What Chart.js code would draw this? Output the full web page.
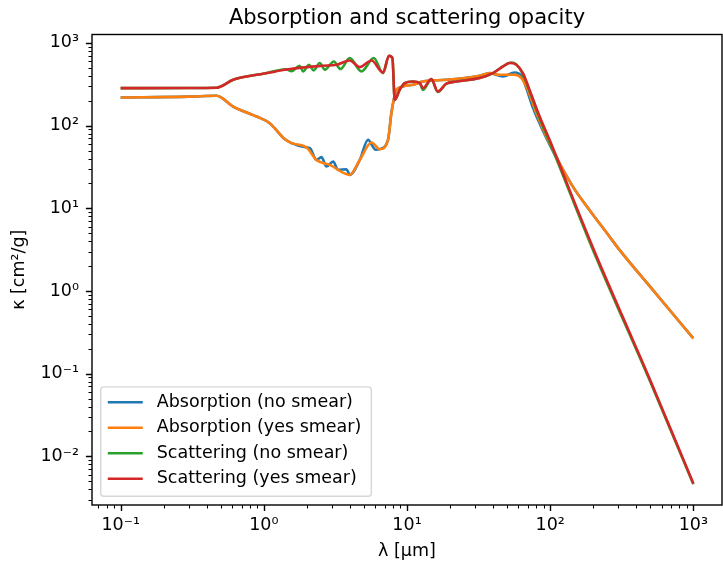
<!DOCTYPE html>
<html>
<head>
<meta charset="utf-8">
<script src="https://cdn.jsdelivr.net/npm/chart.js@4.4.1/dist/chart.umd.min.js"></script>
<style>
  html, body { margin: 0; padding: 0; background: #ffffff; }
  #wrap { width: 723px; height: 562px; }
  canvas { display: block; }
</style>
</head>
<body>
<div id="wrap"><canvas id="c" width="723" height="562"></canvas></div>
<script>
// ---------------- data ----------------
const seriesLabels = [
  'Absorption (no smear)',
  'Absorption (yes smear)',
  'Scattering (no smear)',
  'Scattering (yes smear)'
];

// Absorption, no smear
const lambdaAbsNoSmear = [0.1, 0.3, 0.468, 0.611, 0.798, 0.889, 1.10, 1.40, 1.56, 1.99, 2.10, 2.33, 2.53, 2.74, 3.05, 3.30, 3.78, 3.98, 4.68, 5.34, 6.05, 6.45, 7.37, 7.78, 8.08, 8.43, 11.0, 12.9, 18.8, 32.2, 37.8, 46.8, 56.4, 62.9, 68.1, 75.7, 94.0, 110, 144, 188, 260, 305, 521, 1000];
const kappaAbsNoSmear  = [219, 224, 229.6, 170, 139, 129, 107, 68.7, 61.4, 54.3, 53.4, 38.5, 41.6, 32.0, 36.8, 29.2, 29.7, 25.4, 38.5, 67.3, 51, 52, 67.3, 142, 205, 271, 312, 342, 358, 401, 432, 393, 439, 400, 285, 165, 71, 41.5, 18.3, 9.56, 4.54, 3.14, 1.03, 0.267];

// Absorption, yes smear
const lambdaAbsSmear = [0.1, 0.3, 0.468, 0.611, 0.798, 0.889, 1.10, 1.40, 1.56, 1.99, 2.33, 2.89, 3.98, 4.68, 5.65, 6.45, 7.37, 7.78, 8.08, 8.43, 11.0, 12.9, 18.8, 32.2, 37.8, 44.4, 56.4, 62.9, 68.1, 80.0, 94.0, 110, 144, 188, 260, 305, 521, 1000];
const kappaAbsSmear  = [219, 224, 229.6, 170, 139, 129, 107, 68.7, 61.4, 54.3, 38.5, 33.5, 25.4, 38.5, 62.4, 51.9, 67.3, 142, 205, 271, 312, 342, 358, 401, 432, 412, 412, 376, 297, 142, 73.8, 42.3, 18.3, 9.56, 4.54, 3.14, 1.03, 0.267];

// Scattering, no smear
const lambdaScaNoSmear = [0.1, 0.3, 0.468, 0.611, 0.757, 0.99, 1.44, 1.56, 1.78, 1.88, 2.07, 2.23, 2.46, 2.67, 3.08, 3.43, 3.98, 4.81, 5.86, 6.80, 7.49, 7.91, 8.21, 8.89, 9.64, 11.0, 12.3, 12.9, 14.8, 16.4, 18.8, 22.1, 32.2, 39.8, 46.8, 53.5, 58.0, 64.5, 71.8, 84.4, 99.1, 113, 136.5, 202, 500, 1000];
const kappaScaNoSmear  = [284, 285, 287, 358, 393, 424, 480, 455, 530, 452, 545, 465, 571, 474, 597, 483, 656, 452, 656, 432, 700, 656, 205, 271, 327, 342, 327, 270, 365, 255, 321, 342, 376, 432, 519, 581, 550, 420, 260, 122, 63, 36, 15.8, 2.95, 0.08, 0.0046];

// Scattering, yes smear
const lambdaScaSmear = [0.1, 0.3, 0.468, 0.611, 0.757, 0.99, 1.52, 2.59, 3.22, 3.98, 4.68, 5.65, 6.80, 7.49, 7.91, 8.21, 8.89, 9.64, 11.0, 12.3, 12.9, 14.8, 16.4, 18.8, 22.1, 32.2, 39.8, 46.8, 52.1, 58.0, 64.5, 71.8, 84.4, 99.1, 113, 136.5, 202, 500, 1000];
const kappaScaSmear  = [284, 285, 287, 358, 393, 424, 483, 530, 545, 614, 511, 614, 439, 700, 656, 205, 271, 327, 342, 327, 284, 365, 259, 321, 342, 376, 432, 519, 571, 545, 432, 270, 129, 67.3, 38.5, 16.7, 3.14, 0.0832, 0.0047];

// axis ticks
const xMajorTicks = [0.1, 1, 10, 100, 1000];
const xTickLabels = ['10\u207B\u00B9', '10\u2070', '10\u00B9', '10\u00B2', '10\u00B3'];
const yMajorTicks = [0.01, 0.1, 1, 10, 100, 1000];
const yTickLabels = ['10\u207B\u00B2', '10\u207B\u00B9', '10\u2070', '10\u00B9', '10\u00B2', '10\u00B3'];

// ---------------- styling ----------------
const FONT = 'DejaVu Sans';
const palette = ['#1f77b4', '#ff7f0e', '#2ca02c', '#d62728'];
const LINE_W = 2.6;

const seriesX = [lambdaAbsNoSmear, lambdaAbsSmear, lambdaScaNoSmear, lambdaScaSmear];
const seriesY = [kappaAbsNoSmear, kappaAbsSmear, kappaScaNoSmear, kappaScaSmear];

const datasets = seriesLabels.map((label, s) => ({
  label: label,
  data: seriesX[s].map((x, i) => ({ x: x, y: seriesY[s][i] })),
  borderColor: palette[s],
  backgroundColor: palette[s],
  borderWidth: LINE_W,
  pointRadius: 0,
  pointHoverRadius: 0,
  fill: false,
  cubicInterpolationMode: 'monotone',
  order: 3 - s
}));

function minorValues(scale) {
  const out = [];
  const lo = Math.floor(Math.log10(scale.min)) ;
  const hi = Math.ceil(Math.log10(scale.max));
  for (let e = lo; e <= hi; e++) {
    for (let m = 2; m <= 9; m++) {
      const v = m * Math.pow(10, e);
      if (v >= scale.min && v <= scale.max) out.push(v);
    }
  }
  return out;
}

const framePlugin = {
  id: 'mplFrame',
  afterDraw(chart) {
    const ctx = chart.ctx;
    const ca = chart.chartArea;
    const xs = chart.scales.x, ys = chart.scales.y;
    ctx.save();
    ctx.strokeStyle = '#000000';
    // major ticks
    ctx.lineWidth = 1.4;
    ctx.beginPath();
    xMajorTicks.forEach(v => {
      const p = Math.round(xs.getPixelForValue(v)) + 0.5;
      ctx.moveTo(p, ca.bottom); ctx.lineTo(p, ca.bottom + 6.1);
    });
    yMajorTicks.forEach(v => {
      const p = Math.round(ys.getPixelForValue(v)) + 0.5;
      ctx.moveTo(ca.left, p); ctx.lineTo(ca.left - 6.1, p);
    });
    ctx.stroke();
    // minor ticks
    ctx.lineWidth = 1.05;
    ctx.beginPath();
    minorValues(xs).forEach(v => {
      const p = Math.round(xs.getPixelForValue(v)) + 0.5;
      ctx.moveTo(p, ca.bottom); ctx.lineTo(p, ca.bottom + 3.5);
    });
    minorValues(ys).forEach(v => {
      const p = Math.round(ys.getPixelForValue(v)) + 0.5;
      ctx.moveTo(ca.left, p); ctx.lineTo(ca.left - 3.5, p);
    });
    ctx.stroke();
    // frame
    ctx.lineWidth = 1.4;
    ctx.strokeRect(ca.left, ca.top, ca.right - ca.left, ca.bottom - ca.top);

    // legend (lower left, matplotlib style)
    const fs = 17.5;
    ctx.font = fs + 'px "' + FONT + '"';
    let maxW = 0;
    chart.data.datasets.forEach(d => { maxW = Math.max(maxW, ctx.measureText(d.label).width); });
    const pad = 0.4 * fs, handleLen = 2.0 * fs, handleGap = 0.8 * fs;
    const rowH = 25.5;
    const boxW = pad + handleLen + handleGap + maxW + pad + 3;
    const boxH = 109.4;
    const bx = ca.left + 0.5 * fs;
    const by = ca.bottom - 0.5 * fs - boxH;
    const r = 3;
    ctx.beginPath();
    ctx.moveTo(bx + r, by);
    ctx.lineTo(bx + boxW - r, by);
    ctx.arcTo(bx + boxW, by, bx + boxW, by + r, r);
    ctx.lineTo(bx + boxW, by + boxH - r);
    ctx.arcTo(bx + boxW, by + boxH, bx + boxW - r, by + boxH, r);
    ctx.lineTo(bx + r, by + boxH);
    ctx.arcTo(bx, by + boxH, bx, by + boxH - r, r);
    ctx.lineTo(bx, by + r);
    ctx.arcTo(bx, by, bx + r, by, r);
    ctx.closePath();
    ctx.fillStyle = 'rgba(255,255,255,0.8)';
    ctx.fill();
    ctx.lineWidth = 1.4;
    ctx.strokeStyle = 'rgba(204,204,204,0.8)';
    ctx.stroke();
    chart.data.datasets.forEach((d, i) => {
      const cy = by + 15.4 + i * rowH;
      ctx.beginPath();
      ctx.strokeStyle = d.borderColor;
      ctx.lineWidth = LINE_W;
      ctx.moveTo(bx + pad, cy);
      ctx.lineTo(bx + pad + handleLen, cy);
      ctx.stroke();
      ctx.fillStyle = '#000000';
      ctx.textAlign = 'left';
      ctx.textBaseline = 'middle';
      ctx.fillText(d.label, bx + pad + handleLen + handleGap, cy);
    });
    ctx.restore();
  }
};

new Chart(document.getElementById('c'), {
  type: 'line',
  data: { datasets: datasets },
  plugins: [framePlugin],
  options: {
    responsive: false,
    devicePixelRatio: 1,
    animation: false,
    events: [],
    layout: { padding: { left: 0, right: 1, top: 0, bottom: 0 } },
    plugins: {
      legend: { display: false },
      tooltip: { enabled: false },
      title: {
        display: true,
        text: 'Absorption and scattering opacity',
        fullSize: false,
        color: '#000000',
        font: { family: FONT, size: 21, weight: 'normal' },
        padding: { top: 6.1, bottom: 3.2 }
      }
    },
    scales: {
      x: {
        type: 'logarithmic',
        position: 'bottom',
        min: Math.pow(10, -1.2),
        max: Math.pow(10, 3.2),
        grid: { display: false, drawTicks: false },
        border: { display: false },
        afterBuildTicks: (s) => { s.ticks = xMajorTicks.map(v => ({ value: v, major: true })); },
        afterFit: (s) => { s.height = 57; },
        ticks: {
          autoSkip: false, maxRotation: 0, minRotation: 0, padding: 10,
          color: '#000000',
          font: { family: FONT, size: 17.5 },
          callback: (v, i) => xTickLabels[i]
        },
        title: {
          display: true, text: '\u03BB [\u03BCm]', color: '#000000',
          font: { family: FONT, size: 17.5 },
          padding: { top: 1, bottom: 0 }
        }
      },
      y: {
        type: 'logarithmic',
        position: 'left',
        min: Math.pow(10, -2.588),
        max: Math.pow(10, 3.102),
        grid: { display: false, drawTicks: false },
        border: { display: false },
        afterBuildTicks: (s) => { s.ticks = yMajorTicks.map(v => ({ value: v, major: true })); },
        afterFit: (s) => { s.width = 92; },
        ticks: {
          autoSkip: false, padding: 13,
          color: '#000000',
          font: { family: FONT, size: 17.5 },
          callback: (v, i) => yTickLabels[i]
        },
        title: {
          display: true, text: '\u03BA [cm\u00B2/g]', color: '#000000',
          font: { family: FONT, size: 17.5 },
          padding: { top: 9, bottom: 0 }
        }
      }
    }
  }
});
</script>
</body>
</html>
